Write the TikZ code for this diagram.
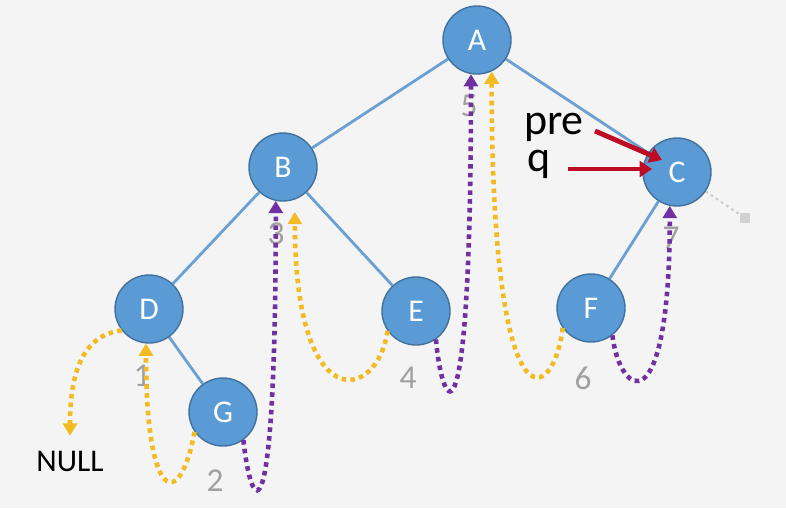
\documentclass[tikz,border=0pt]{standalone}
\usepackage{fontspec}
\setmainfont{Carlito}
\usetikzlibrary{arrows.meta,backgrounds}
\definecolor{bgcol}{RGB}{244,244,245}
\definecolor{nodefill}{RGB}{91,155,213}
\definecolor{nodeedge}{RGB}{65,113,156}
\definecolor{edgecol}{RGB}{108,160,210}
\definecolor{numgray}{RGB}{160,160,160}
\definecolor{gold}{RGB}{244,186,34}
\definecolor{violet}{RGB}{112,48,160}
\definecolor{darkred}{RGB}{190,12,36}
\begin{document}
\begin{tikzpicture}[x=0.02cm,y=-0.02cm,
    vertex/.style={circle,draw=nodeedge,fill=nodefill,line width=0.8pt,minimum size=1.36cm,inner sep=0pt,text=white,font=\fontsize{18}{21}\selectfont},
    edge/.style={draw=edgecol,line width=1.6pt},
    order/.style={text=numgray,font=\fontsize{19}{22}\selectfont},
    label/.style={text=black,inner sep=0pt,text depth=0pt,font=\fontsize{25}{28}\selectfont},
    goldpath/.style={draw=gold,line width=2.6pt,dash pattern=on 2.6pt off 2.4pt,-{Triangle[width=8pt,length=7pt]}},
    violetpath/.style={draw=violet,line width=2.6pt,dash pattern=on 2.6pt off 2.4pt,-{Triangle[width=8pt,length=7pt]}},
    pointer/.style={draw=darkred,line width=2.8pt,-{Triangle[width=9pt,length=7pt]}}]
    \useasboundingbox (0,0) rectangle (786,508);
    % tree
    \node[vertex] (A) at (477,40) {A};
    \node[vertex] (B) at (283,167) {B};
    \node[vertex] (C) at (677,172) {C};
    \node[vertex] (D) at (149,309) {D};
    \node[vertex] (E) at (416,311) {E};
    \node[vertex] (F) at (591,308) {F};
    \node[vertex] (G) at (223,412) {G};
    \node[fill=black!18,minimum size=0.2cm,inner sep=0pt] (stub) at (745,218) {};
    \begin{scope}[on background layer]
        \fill[bgcol] (0,0) rectangle (786,508);
        \draw[edge] (A) -- (B) (A) -- (C) (B) -- (D) (B) -- (E) (D) -- (G) (C) -- (F);
        \draw[black!20,line width=1.2pt,dash pattern=on 1.5pt off 2pt] (C) -- (stub);
    \end{scope}
    % visiting order
    \node[order] at (142,376) {1};
    \node[order] at (215,481) {2};
    \node[order] at (276,234) {3};
    \node[order] at (408,378) {4};
    \node[order] at (469,106) {5};
    \node[order] at (583,378) {6};
    \node[order] at (671,238) {7};
    \node[text=black,font=\fontsize{18}{21}\selectfont] (null) at (70,461) {NULL};
    % threads
    \draw[goldpath,shorten >=5pt] (D.218) .. controls +(-40,5) and +(0,-70) .. (null.north);
    \draw[goldpath] (G.215) .. controls +(-15,80) and +(0,160) .. (D.265);
    \draw[goldpath,shorten >=7pt] (E.215) .. controls +(-10,70) and +(0,220) .. (B.290);
    \draw[goldpath] (F.215) .. controls +(-8,73) and +(0,372) .. (A.295);
    \draw[violetpath] (G.-54) .. controls +(8,75) and +(0,350) .. (B.258);
    \draw[violetpath] (E.-55) .. controls +(7,75) and +(0,388) .. (A.260);
    \draw[violetpath] (F.-52) .. controls +(8,63) and +(0,220) .. (C.258);
    % pointers
    \node[label] (pre) at (554,124) {pre};
    \node[label] (q) at (539,161) {q};
    \coordinate (pretip) at (662,160);
    \coordinate (qtip) at (652,169);
    \draw[pointer] (595,131) -- (pretip);
    \draw[pointer] ([xshift=10pt]q.east |- qtip) -- (qtip);
\end{tikzpicture}
\end{document}
